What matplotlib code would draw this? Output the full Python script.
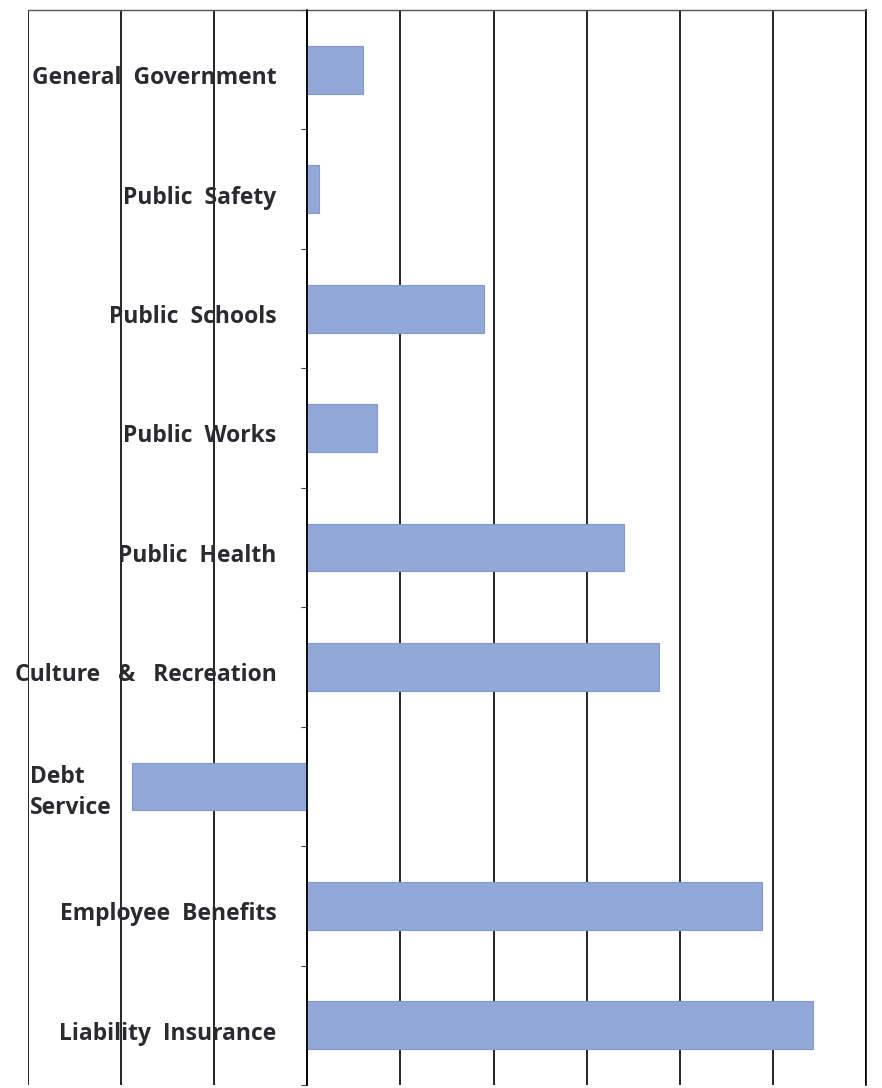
import numpy as np
import matplotlib
matplotlib.use("Agg")
from matplotlib import pyplot as plt

# categories, top to bottom, and bar values read in gridline units
categories = ["General  Government", "Public  Safety", "Public  Schools",
              "Public  Works", "Public  Health", "Culture   &   Recreation",
              "Debt\nService", "Employee  Benefits", "Liability  Insurance"]
values = [0.60, 0.13, 1.90, 0.75, 3.40, 3.78, -1.88, 4.88, 5.43]

bar_color = "#94a8d8"
text_color = "#2b2a2f"

fig = plt.figure(figsize=(8.82, 10.88), dpi=100)
ax = fig.add_axes([28 / 882, 3 / 1088, 838 / 882, 1075 / 1088])

y = np.arange(len(categories))
ax.barh(y, values, height=0.4, color=bar_color, edgecolor="#8198cc",
        linewidth=0.8, zorder=3)

# x range -3..6 with a black gridline at every unit
ax.set_xlim(-3, 6)
ax.set_xticks(np.arange(-3, 7))
ax.set_xticklabels([])
ax.tick_params(axis="x", length=0)
ax.grid(axis="x", color="black", linewidth=1.2, zorder=1)

ax.set_ylim(len(categories) - 0.5, -0.5)
ax.set_yticks(np.arange(-0.5, len(categories), 1))
ax.set_yticklabels([])
ax.tick_params(axis="y", direction="out", length=4, width=0.8, color="#444444")

# the vertical zero line carries the category ticks
ax.spines["left"].set_position(("data", 0))
ax.spines["left"].set_linewidth(1.2)
ax.spines["left"].set_zorder(4)
ax.spines["bottom"].set_visible(False)
ax.spines["top"].set_linewidth(1.0)
ax.spines["top"].set_color("#555555")
ax.spines["right"].set_linewidth(1.2)

# category names sit inside the plot, left of the zero line
for i, name in enumerate(categories):
    if "\n" in name:
        ax.text(-2.98, i + 0.05, name, ha="left", va="center",
                fontsize=16.5, fontweight="bold", family="Open Sans",
                color=text_color, linespacing=1.35, zorder=5)
    else:
        ax.text(-0.33, i + 0.07, name, ha="right", va="center",
                fontsize=16.5, fontweight="bold", family="Open Sans",
                color=text_color, zorder=5)

plt.savefig("out.png", dpi=100)
